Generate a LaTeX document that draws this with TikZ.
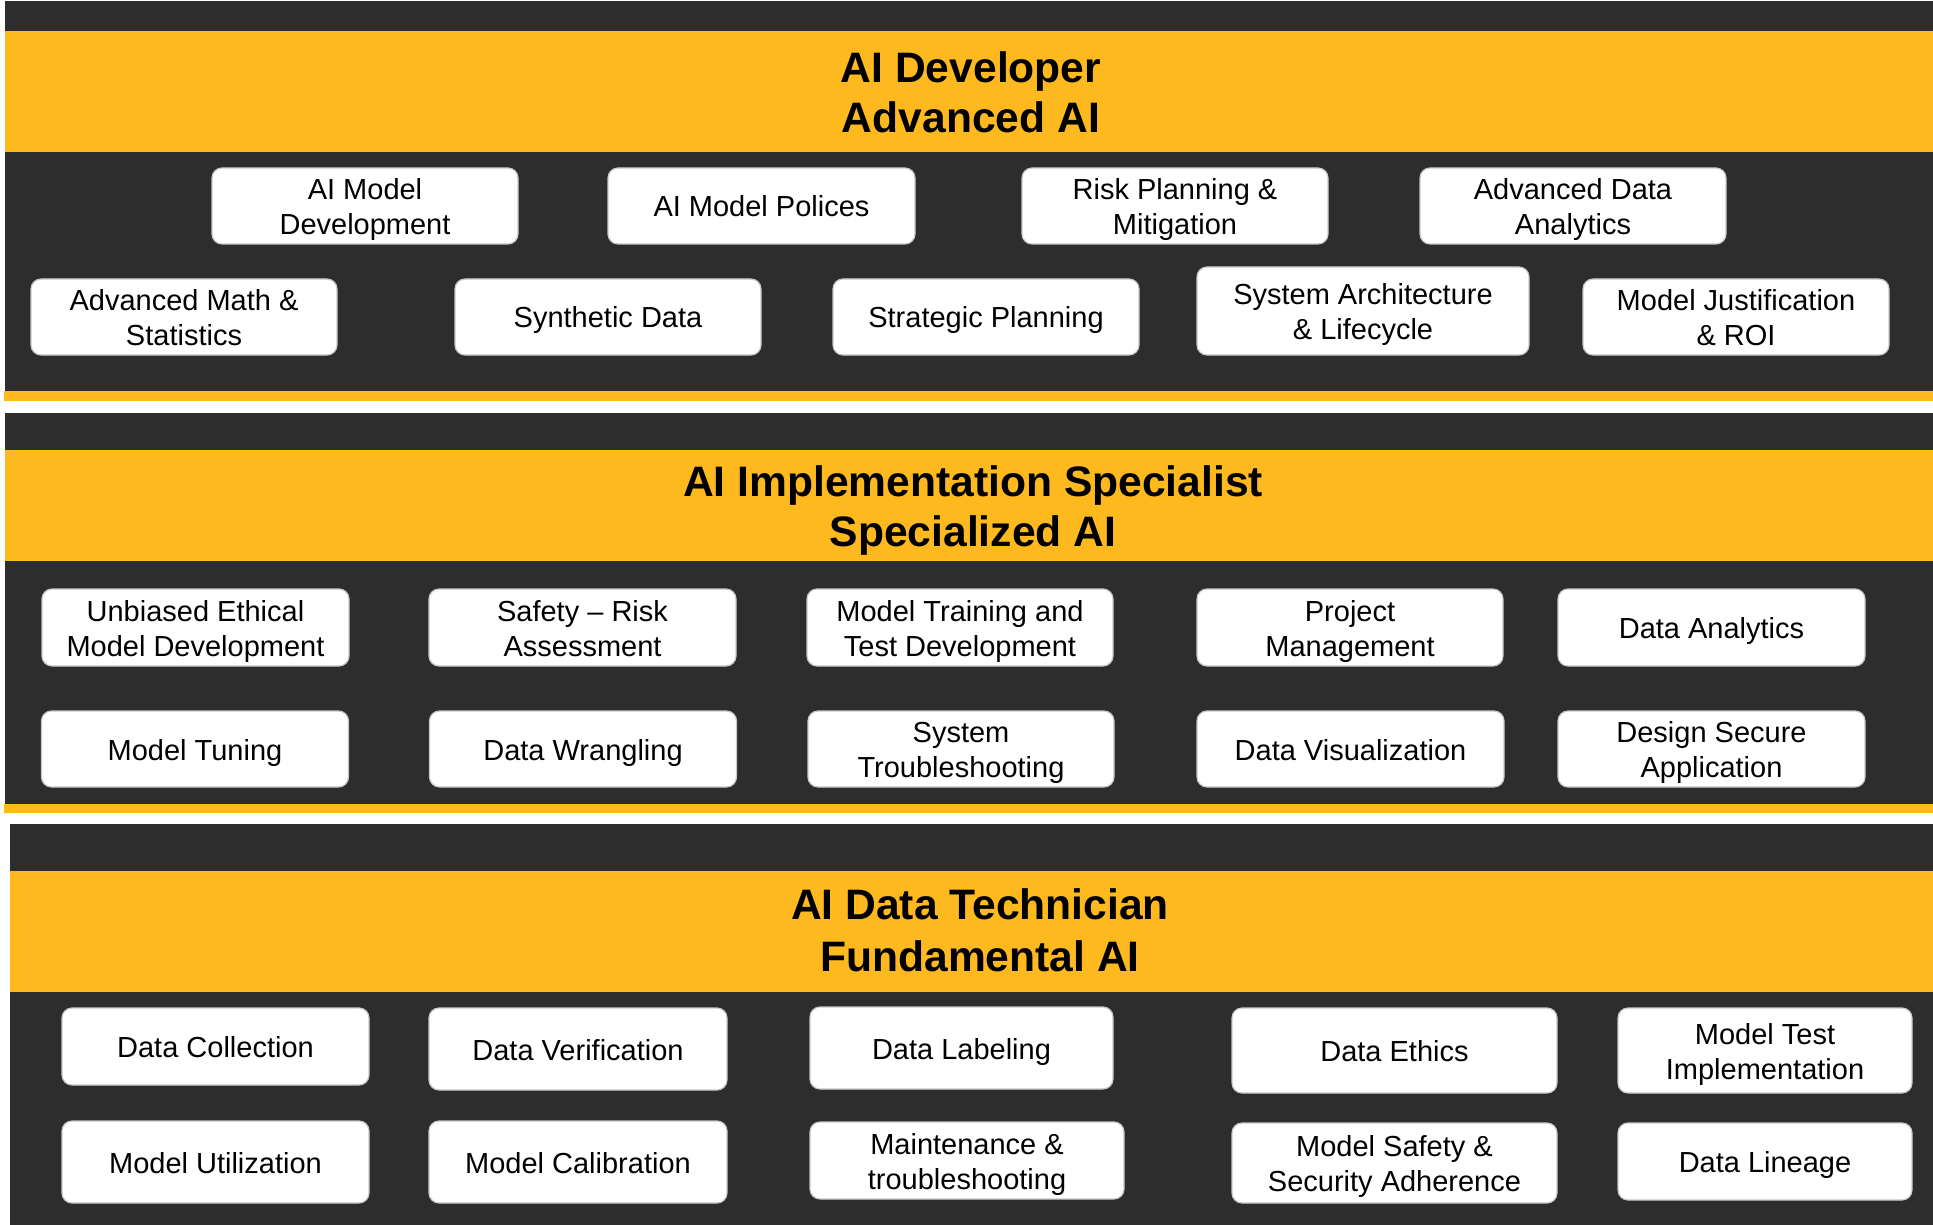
\documentclass[tikz,border=0pt]{standalone}
\usepackage{fontspec}
\setmainfont{Liberation Sans}
\definecolor{dk}{RGB}{45,45,45}
\definecolor{og}{RGB}{254,185,30}
\newcommand\Sa{\rule{0pt}{14.5pt}}
\newcommand\Sb{\rule[-3.5pt]{0pt}{3.5pt}}
\begin{document}
\begin{tikzpicture}[x=0.5pt,y=-0.5pt,
  bx/.style 2 args={draw=black!22, line width=0.6pt, fill=white, rounded corners=5pt,
    minimum width=#1*0.5pt, minimum height=#2*0.5pt, inner sep=0pt, align=center,
    font=\fontsize{14.5}{17.5}\selectfont, text=black},
  ttl/.style={anchor=base, inner sep=0pt, text=black, font=\fontsize{21.3}{25}\selectfont\bfseries}]
\useasboundingbox (0,0) rectangle (1933,1225);
\fill[white] (0,0) rectangle (1933,1225);
% section 1
\fill[dk] (5,1) rectangle (1933,391);
\fill[og] (5,31) rectangle (1933,152);
\fill[og] (4,391) rectangle (1933,401);
% section 2
\fill[dk] (5,413) rectangle (1933,804);
\fill[og] (5,450) rectangle (1933,561);
\fill[og] (4,804) rectangle (1933,813);
% section 3
\fill[dk] (10,824) rectangle (1933,1225);
\fill[og] (10,871) rectangle (1933,992);

% titles
\node[ttl] (t1a) at (971,83) {AI Developer};
\node[ttl] (t1b) at (971,133) {Advanced AI};
\node[ttl] (t2a) at (973,496) {AI Implementation Specialist};
\node[ttl] (t2b) at (973,546) {Specialized AI};
\node[ttl] (t3a) at (980,919) {AI Data Technician};
\node[ttl] (t3b) at (980,971) {Fundamental AI};

% section 1 boxes
\node[bx={306}{76}] (a1) at (365,206) {\Sa AI Model\\Development\Sb};
\node[bx={307}{76}] (a2) at (761.5,206) {\Sa AI Model Polices\Sb};
\node[bx={306}{76}] (a3) at (1175,206) {\Sa Risk Planning \&\\Mitigation\Sb};
\node[bx={306}{76}] (a4) at (1573,206) {\Sa Advanced Data\\Analytics\Sb};
\node[bx={306}{76}] (a5) at (184,317) {\Sa Advanced Math \&\\Statistics\Sb};
\node[bx={306}{76}] (a6) at (608,317) {\Sa Synthetic Data\Sb};
\node[bx={306}{76}] (a7) at (986,317) {\Sa Strategic Planning\Sb};
\node[bx={332}{88}] (a8) at (1363,311) {\Sa System Architecture\\\& Lifecycle\Sb};
\node[bx={306}{76}] (a9) at (1736,317) {\Sa Model Justification\\\& ROI\Sb};

% section 2 boxes
\node[bx={307}{77}] (b1) at (195.5,627.5) {\Sa Unbiased Ethical\\Model Development\Sb};
\node[bx={307}{77}] (b2) at (582.5,627.5) {\Sa Safety -- Risk\\Assessment\Sb};
\node[bx={306}{77}] (b3) at (960,627.5) {\Sa Model Training and\\Test Development\Sb};
\node[bx={306}{77}] (b4) at (1350,627.5) {\Sa Project\\Management\Sb};
\node[bx={307}{77}] (b5) at (1711.5,627.5) {\Sa Data Analytics\Sb};
\node[bx={307}{76}] (b6) at (195,749) {\Sa Model Tuning\Sb};
\node[bx={307}{76}] (b7) at (583,749) {\Sa Data Wrangling\Sb};
\node[bx={306}{76}] (b8) at (961,749) {\Sa System\\Troubleshooting\Sb};
\node[bx={307}{76}] (b9) at (1350.5,749) {\Sa Data Visualization\Sb};
\node[bx={307}{76}] (b10) at (1711.5,749) {\Sa Design Secure\\Application\Sb};

% section 3 boxes
\node[bx={307}{77}] (c1) at (215.5,1046.5) {\Sa Data Collection\Sb};
\node[bx={298}{82}] (c2) at (578,1049) {\Sa Data Verification\Sb};
\node[bx={303}{82}] (c3) at (961.5,1048) {\Sa Data Labeling\Sb};
\node[bx={325}{85}] (c4) at (1394.5,1050.5) {\Sa Data Ethics\Sb};
\node[bx={294}{85}] (c5) at (1765,1050.5) {\Sa Model Test\\Implementation\Sb};
\node[bx={307}{82}] (c6) at (215.5,1162) {\Sa Model Utilization\Sb};
\node[bx={298}{82}] (c7) at (578,1162) {\Sa Model Calibration\Sb};
\node[bx={314}{77}] (c8) at (967,1160.5) {\Sa Maintenance \&\\troubleshooting\Sb};
\node[bx={325}{80}] (c9) at (1394.5,1163) {\Sa Model Safety \&\\Security Adherence\Sb};
\node[bx={294}{77}] (c10) at (1765,1161.5) {\Sa Data Lineage\Sb};
\end{tikzpicture}
\end{document}
